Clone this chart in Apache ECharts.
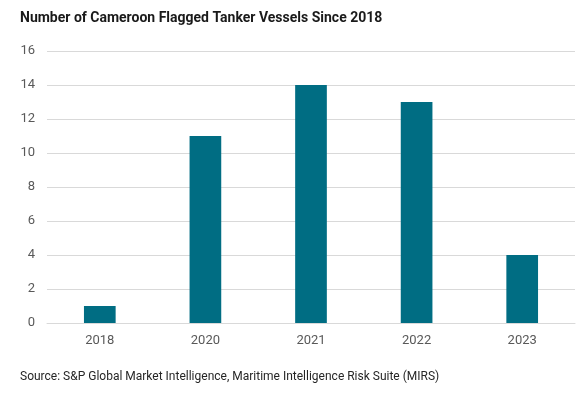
<!DOCTYPE html>
<html><head><meta charset="utf-8">
<script src="https://cdn.jsdelivr.net/npm/echarts@6/dist/echarts.min.js"></script>
<style>html,body{margin:0;padding:0;background:#fff}#c{width:577px;height:396px}</style>
</head><body><div id="c"></div>
<script>
const titleText = "Number of Cameroon Flagged Tanker Vessels Since 2018";
const sourceText = "Source: S&P Global Market Intelligence, Maritime Intelligence Risk Suite (MIRS)";
const categories = ["2018", "2020", "2021", "2022", "2023"];
const vessels = [1, 11, 14, 13, 4];
const yTicks = [0, 2, 4, 6, 8, 10, 12, 14, 16];

const chart = echarts.init(document.getElementById('c'), null, {renderer: 'canvas'});
chart.setOption({
  animation: false,
  textStyle: {fontFamily: 'Roboto'},
  title: [{
    text: titleText, left: 15, top: 6,
    textStyle: {fontSize: 14, fontWeight: 'bold', color: '#1a1a1a', fontFamily: 'Roboto'}
  }, {
    text: sourceText, left: 15, top: 366,
    textStyle: {fontSize: 12, fontWeight: 'normal', color: '#262626', fontFamily: 'Roboto'}
  }],
  grid: {left: 47, right: 2, top: 51, bottom: 73, containLabel: false},
  xAxis: {
    type: 'category', data: categories,
    axisLine: {lineStyle: {color: '#d9d9d9'}},
    axisTick: {show: false},
    axisLabel: {color: '#595959', fontSize: 13, margin: 11}
  },
  yAxis: {
    type: 'value', min: yTicks[0], max: yTicks[yTicks.length-1], interval: 2,
    axisLine: {show: false}, axisTick: {show: false},
    splitLine: {lineStyle: {color: '#d9d9d9'}},
    axisLabel: {color: '#595959', fontSize: 13, margin: 12}
  },
  series: [{
    type: 'bar', data: vessels, barWidth: '30%',
    itemStyle: {color: '#006d83'}
  }]
});
</script></body></html>
